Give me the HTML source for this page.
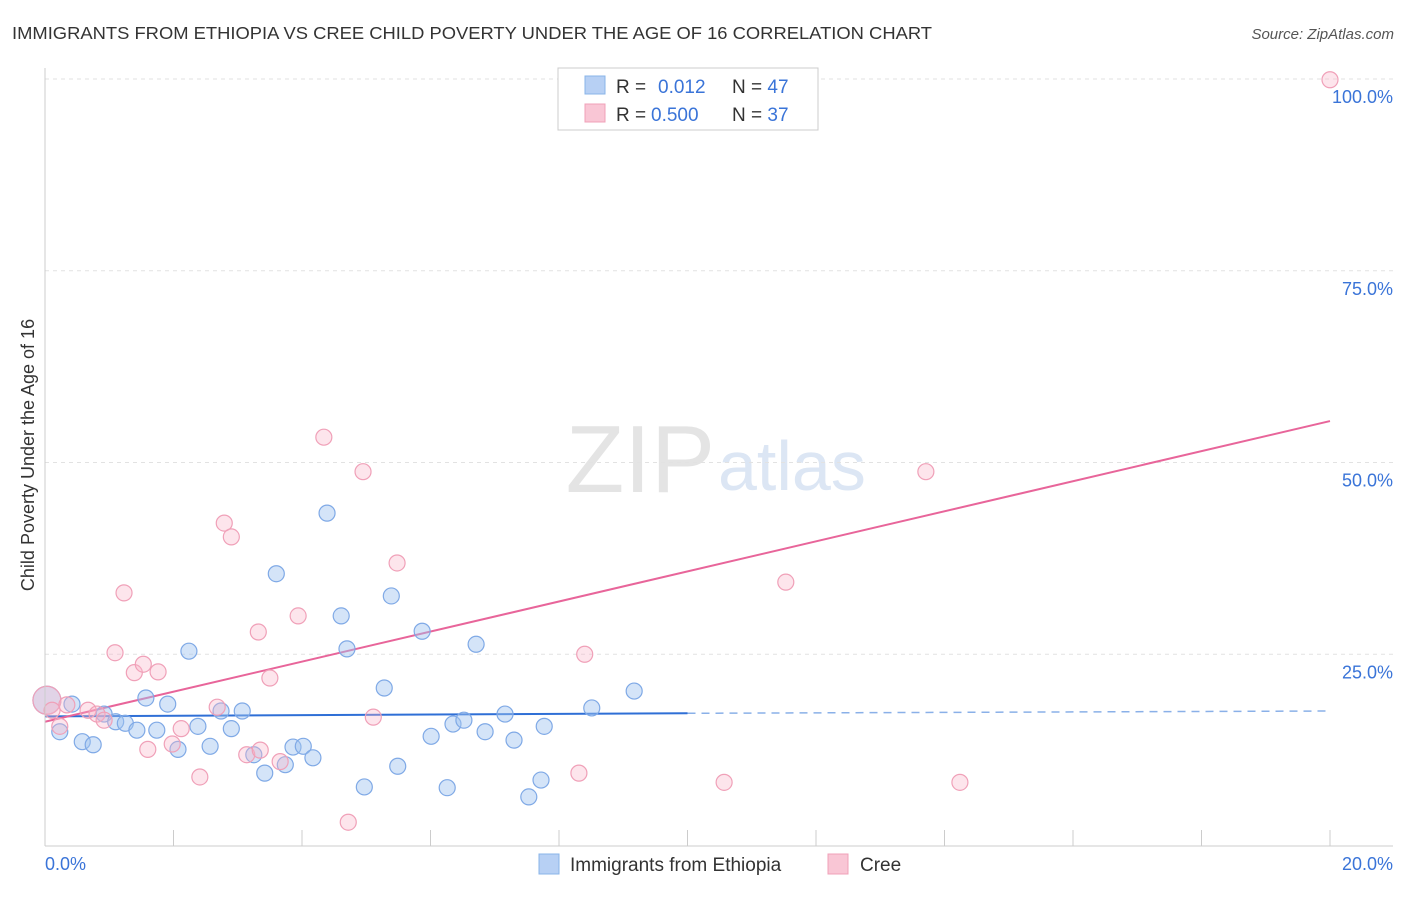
<!DOCTYPE html>
<html><head><meta charset="utf-8"><style>
body{margin:0;background:#fff;font-family:"Liberation Sans",sans-serif;}
svg text{font-family:"Liberation Sans",sans-serif;}
</style></head><body>
<svg id="chart" width="1406" height="892" xmlns="http://www.w3.org/2000/svg">
<text x="12" y="39" font-size="17.5" fill="#333" textLength="920" lengthAdjust="spacingAndGlyphs">IMMIGRANTS FROM ETHIOPIA VS CREE CHILD POVERTY UNDER THE AGE OF 16 CORRELATION CHART</text>
<text x="1394" y="39" font-size="15" fill="#555" font-style="italic" text-anchor="end">Source: ZipAtlas.com</text>
<text x="715" y="492" font-size="96" fill="#e4e4e4" text-anchor="end" font-family="Liberation Serif">ZIP</text>
<text x="718" y="490" font-size="70" fill="#dce6f4">atlas</text>
<text transform="translate(34,455) rotate(-90)" font-size="18" fill="#333" text-anchor="middle">Child Poverty Under the Age of 16</text>
<g id="grid"></g><g id="ticks"></g><g id="lines"></g><g id="pts"></g>
<line x1="45" y1="68" x2="45" y2="846" stroke="#ccc"/>
<line x1="45" y1="846" x2="1393" y2="846" stroke="#ccc"/>
<text x="45" y="870" font-size="18" fill="#3a74d8">0.0%</text>
<text x="1393" y="870" font-size="18" fill="#3a74d8" text-anchor="end">20.0%</text>
<g>
<rect x="558" y="68" width="260" height="62" fill="#fff" stroke="#ccc"/>
<rect x="585" y="76" width="20" height="18" fill="#b7d0f4" stroke="#8ab4e8"/>
<rect x="585" y="104" width="20" height="18" fill="#f9c6d5" stroke="#f0a0b8"/>
<text x="616" y="93" font-size="19" fill="#333">R = <tspan x="658" fill="#3a74d8">0.012</tspan><tspan x="732">N = </tspan><tspan fill="#3a74d8">47</tspan></text>
<text x="616" y="121" font-size="19" fill="#333">R = <tspan x="651" fill="#3a74d8">0.500</tspan><tspan x="732">N = </tspan><tspan fill="#3a74d8">37</tspan></text>
</g>
<g>
<rect x="539" y="854" width="20" height="20" fill="#b7d0f4" stroke="#8ab4e8"/>
<text x="570" y="871" font-size="19" fill="#333">Immigrants from Ethiopia</text>
<rect x="828" y="854" width="20" height="20" fill="#f9c6d5" stroke="#f0a0b8"/>
<text x="860" y="871" font-size="19" fill="#333">Cree</text>
</g>
</svg>
<script>
const yTicks=[25,50,75,100];
const yTickLabels=["25.0%","50.0%","75.0%","100.0%"];
const xTickVals=[2,4,6,8,10,12,14,16,18,20];
const blueX=[0.03,0.23,0.42,0.58,0.75,0.92,1.10,1.25,1.43,1.57,1.74,1.91,2.07,2.24,2.38,2.57,2.74,2.90,3.07,3.25,3.42,3.60,3.74,3.86,4.02,4.17,4.39,4.61,4.70,4.97,5.28,5.39,5.49,5.87,6.01,6.26,6.35,6.52,6.71,6.85,7.16,7.30,7.53,7.72,7.77,8.51,9.17];
const blueY=[19.0,14.9,18.5,13.6,13.2,17.2,16.2,16.0,15.1,19.3,15.1,18.5,12.6,25.4,15.6,13.0,17.6,15.3,17.6,11.9,9.5,35.5,10.6,12.9,13.0,11.5,43.4,30.0,25.7,7.7,20.6,32.6,10.4,28.0,14.3,7.6,15.9,16.4,26.3,14.9,17.2,13.8,6.4,8.6,15.6,18.0,20.2];
const pinkX=[0.03,0.11,0.23,0.34,0.67,0.81,0.92,1.09,1.23,1.39,1.53,1.60,1.76,1.98,2.12,2.41,2.68,2.79,2.90,3.14,3.32,3.35,3.50,3.66,3.94,4.34,4.72,4.95,5.11,5.48,8.31,8.40,10.57,11.53,13.71,14.24,20.0];
const pinkY=[19.0,17.7,15.6,18.4,17.7,17.2,16.4,25.2,33.0,22.6,23.7,12.6,22.7,13.3,15.3,9.0,18.1,42.1,40.3,11.9,27.9,12.5,21.9,11.0,30.0,53.3,3.1,48.8,16.8,36.9,9.5,25.0,8.3,34.4,48.8,8.3,99.9];
const blueTrend=[16.9,17.3,17.6];
const pinkTrend=[16.2,55.4];
const NS="http://www.w3.org/2000/svg";
const X=v=>45+v/20*1285, Y=v=>846-v*7.67;
function mk(tag,parent,attrs){const e=document.createElementNS(NS,tag);for(const k in attrs)e.setAttribute(k,attrs[k]);document.getElementById(parent).appendChild(e);return e;}
yTicks.forEach((t,i)=>{
 const g=mk('line','grid',{x1:45,x2:1393,y1:Y(t),y2:Y(t),stroke:'#e2e2e2','stroke-dasharray':'4,4'});
 
 
 const tx=mk('text','grid',{x:1393,y:Y(t)+24,'font-size':18,fill:'#3a74d8','text-anchor':'end'});
 tx.textContent=yTickLabels[i];
 
 
});
xTickVals.forEach(t=>{
 const l=mk('line','ticks',{x1:X(t),x2:X(t),y1:830,y2:846,stroke:'#ccc'});
 
 
});
let l1=mk('line','lines',{x1:X(0),y1:Y(blueTrend[0]),x2:X(10),y2:Y(blueTrend[1]),stroke:'#2f6fd6','stroke-width':2});


let l2=mk('line','lines',{x1:X(10),y1:Y(blueTrend[1]),x2:X(20),y2:Y(blueTrend[2]),stroke:'#8ab0e8','stroke-width':1.5,'stroke-dasharray':'8,6'});


let l3=mk('line','lines',{x1:X(0),y1:Y(pinkTrend[0]),x2:X(20),y2:Y(pinkTrend[1]),stroke:'#e8659a','stroke-width':2});


blueX.forEach((x,i)=>{
 const c=mk('circle','pts',{cx:X(x),cy:Y(blueY[i]),r:i==0?14:8,fill:'rgba(160,196,240,0.45)',stroke:'#7fa9e6','stroke-width':1.2});
 
 
});
pinkX.forEach((x,i)=>{
 const c=mk('circle','pts',{cx:X(x),cy:Y(pinkY[i]),r:i==0?14:8,fill:'rgba(248,180,200,0.35)',stroke:'#f0a0b8','stroke-width':1.2});
 
 
});
</script>
</body></html>
